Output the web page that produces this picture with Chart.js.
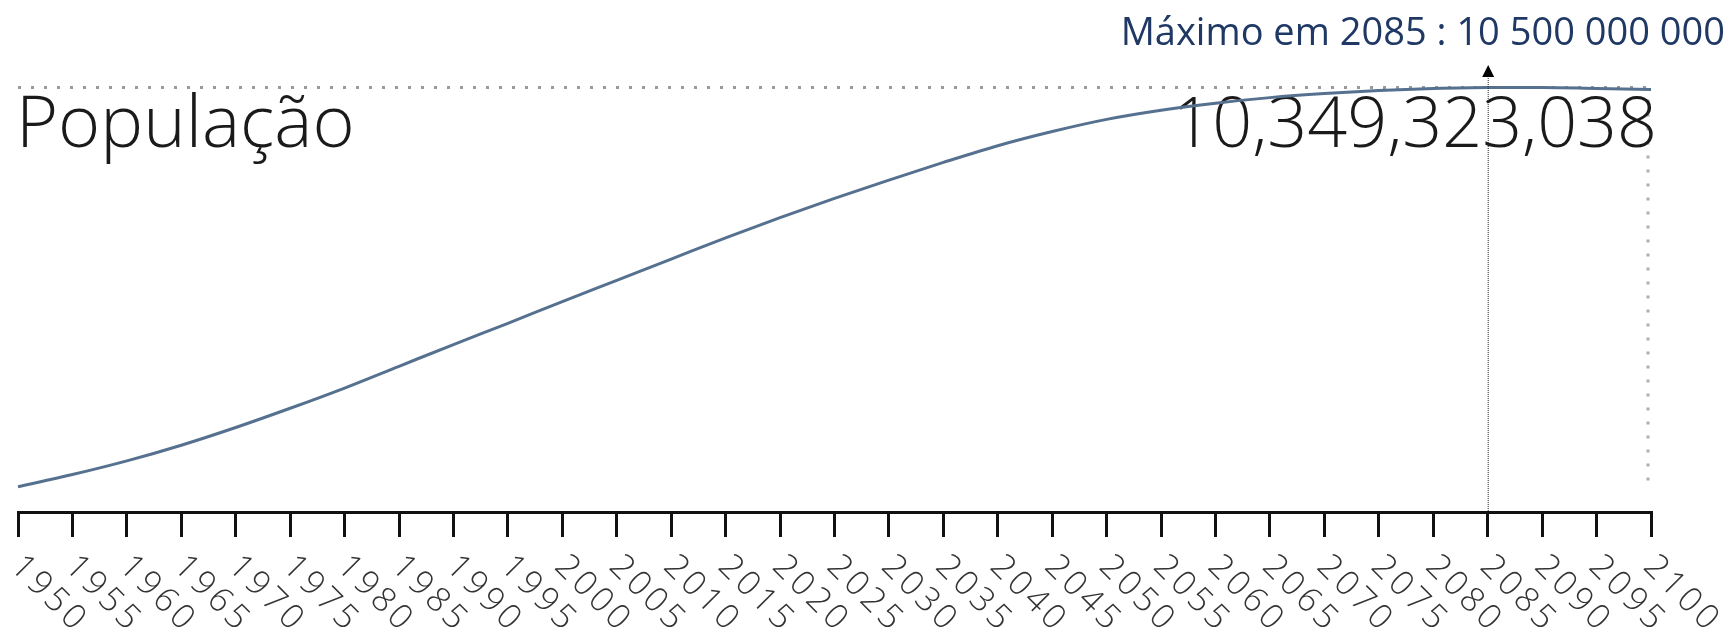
<!DOCTYPE html>
<html lang="pt">
<head>
<meta charset="utf-8">
<title>População</title>
<script src="https://cdn.jsdelivr.net/npm/chart.js@4.4.1/dist/chart.umd.min.js"></script>
<style>
    body { margin: 0; background: #ffffff; }
    #popChart { display: block; }
</style>
</head>
<body>
<canvas id="popChart" width="1731" height="634"></canvas>
<script>
// anos do eixo x (de 5 em 5)
const years = [1950, 1955, 1960, 1965, 1970, 1975, 1980, 1985, 1990, 1995,
               2000, 2005, 2010, 2015, 2020, 2025, 2030, 2035, 2040, 2045,
               2050, 2055, 2060, 2065, 2070, 2075, 2080, 2085, 2090, 2095, 2100];

// populacao mundial, em bilhoes
const population = [2.50, 2.74, 3.01, 3.32, 3.67, 4.05, 4.45, 4.88, 5.31, 5.73,
                    6.16, 6.58, 7.00, 7.42, 7.82, 8.20, 8.56, 8.91, 9.24, 9.52,
                    9.76, 9.94, 10.08, 10.19, 10.27, 10.33, 10.37, 10.39, 10.39, 10.37, 10.35];

const seriesTitle = 'População';
const lastValueText = '10,349,323,038';
const peakYear = 2085;
const peakText = 'Máximo em 2085 : 10 500 000 000';

let popChart;

// desenha textos, linhas pontilhadas e rotulos do eixo x
const overlayPlugin = {
    id: 'overlay',
    beforeDatasetsDraw(chart) {
        const ctx = chart.ctx;
        const area = chart.chartArea;
        const yScale = chart.scales.y;
        const peakY = yScale.getPixelForValue(Math.max(...population));

        ctx.save();
        // linha pontilhada no maximo
        ctx.strokeStyle = '#9a9a9a';
        ctx.lineWidth = 3;
        ctx.setLineDash([3, 10]);
        ctx.beginPath();
        ctx.moveTo(area.left, peakY);
        ctx.lineTo(area.right, peakY);
        ctx.stroke();

        // linha pontilhada na direita
        ctx.strokeStyle = '#b0b0b0';
        ctx.setLineDash([3, 11]);
        ctx.beginPath();
        ctx.moveTo(area.right - 3, peakY + 12);
        ctx.lineTo(area.right - 3, area.bottom - 22);
        ctx.stroke();
        ctx.setLineDash([]);

        // textos grandes
        ctx.fillStyle = '#1a1a1a';
        ctx.font = '300 72px "Open Sans"';
        ctx.textBaseline = 'alphabetic';
        ctx.textAlign = 'left';
        ctx.fillText(seriesTitle, 16, 147);
        ctx.font = '300 70px "Open Sans"';
        ctx.textAlign = 'right';
        ctx.fillText(lastValueText, area.right + 6, 147);
        ctx.restore();
    },
    afterDraw(chart) {
        const ctx = chart.ctx;
        const area = chart.chartArea;
        const xScale = chart.scales.x;

        ctx.save();
        // titulo do maximo
        ctx.fillStyle = '#1f3864';
        ctx.font = '38px "Open Sans"';
        ctx.textAlign = 'right';
        ctx.textBaseline = 'alphabetic';
        ctx.fillText(peakText, 1725, 45);

        // seta e linha vertical no ano do maximo
        const px = xScale.getPixelForValue(years.indexOf(peakYear));
        ctx.strokeStyle = '#222';
        ctx.lineWidth = 1;
        ctx.setLineDash([1, 1]);
        ctx.beginPath();
        ctx.moveTo(px + 0.5, 76);
        ctx.lineTo(px + 0.5, area.bottom);
        ctx.stroke();
        ctx.setLineDash([]);
        ctx.fillStyle = '#000';
        ctx.beginPath();
        ctx.moveTo(px + 0.5, 65);
        ctx.lineTo(px + 6.5, 77);
        ctx.lineTo(px - 5.5, 77);
        ctx.closePath();
        ctx.fill();

        // rotulos do eixo x, inclinados 45 graus
        ctx.fillStyle = '#333333';
        ctx.font = '300 34px "Open Sans"';
        ctx.letterSpacing = '4px';
        ctx.textAlign = 'left';
        years.forEach((yr, i) => {
            const tx = xScale.getPixelForTick(i);
            ctx.save();
            ctx.translate(tx - 9, 568);
            ctx.rotate(Math.PI / 4);
            ctx.fillText(String(yr), 0, 0);
            ctx.restore();
        });
        ctx.restore();
    }
};

function initPopChart() {
    const ctx = document.getElementById('popChart').getContext('2d');
    popChart = new Chart(ctx, {
        type: 'line',
        data: {
            labels: years,
            datasets: [{
                label: seriesTitle,
                data: population,
                borderColor: '#56718f',
                borderWidth: 3,
                pointRadius: 0,
                cubicInterpolationMode: 'monotone',
                fill: false,
                clip: false
            }]
        },
        options: {
            responsive: false,
            animation: false,
            layout: {
                padding: { top: 87, left: 18, right: 80, bottom: 0 }
            },
            scales: {
                x: {
                    offset: false,
                    grid: {
                        display: true,
                        drawOnChartArea: false,
                        drawTicks: true,
                        tickLength: 25,
                        color: '#111',
                        lineWidth: 3
                    },
                    border: { display: true, color: '#111', width: 3 },
                    ticks: { display: false },
                    afterFit: (scale) => { scale.height = 634 - 512; }
                },
                y: {
                    display: false,
                    min: 2.0,
                    max: 10.4
                }
            },
            plugins: {
                legend: { display: false },
                tooltip: { enabled: false }
            }
        },
        plugins: [overlayPlugin]
    });
}

document.addEventListener('DOMContentLoaded', () => {
    initPopChart();
});
</script>
</body>
</html>
